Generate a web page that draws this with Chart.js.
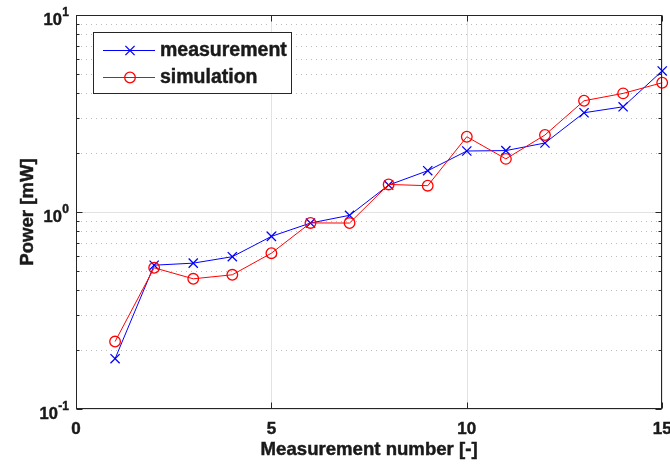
<!DOCTYPE html>
<html>
<head>
<meta charset="utf-8">
<script src="https://cdn.jsdelivr.net/npm/chart.js@4/dist/chart.umd.min.js"></script>
<style>
  html, body { margin: 0; padding: 0; background: #ffffff; }
  #wrap { width: 670px; height: 466px; }
</style>
</head>
<body>
<div id="wrap"><canvas id="c" width="670" height="466"></canvas></div>
<script>
// Measurement index and power readings (mW)
const measurementNumbers = [1, 2, 3, 4, 5, 6, 7, 8, 9, 10, 11, 12, 13, 14, 15];
const measuredPower  = [0.18, 0.537, 0.55, 0.593, 0.752, 0.879, 0.962, 1.37, 1.62, 2.04, 2.05, 2.24, 3.19, 3.42, 5.2];
const simulatedPower = [0.22, 0.521, 0.458, 0.48, 0.618, 0.88, 0.879, 1.38, 1.36, 2.41, 1.86, 2.46, 3.67, 4.0, 4.53];

// Axis ticks
const xTickValues = [0, 5, 10, 15];
const yDecadeExponents = [-1, 0, 1];
const yMinorFactors = [2, 3, 4, 5, 6, 7, 8, 9];

const seriesNames = ['measurement', 'simulation'];
const xTitle = 'Measurement number [-]';
const yTitle = 'Power [mW]';

const FONT = '"Liberation Sans", Arial, Helvetica, sans-serif';
const AXIS_COLOR = '#262626';
const TEXT_COLOR = '#1a1a1a';

function toPoints(xs, ys) {
  return xs.map((x, i) => ({ x: x, y: ys[i] }));
}

// Heavy bold text: fill plus a hairline stroke of the same colour
function boldText(ctx, text, x, y) {
  ctx.fillText(text, x, y);
  ctx.save();
  ctx.lineWidth = 0.45;
  ctx.strokeStyle = ctx.fillStyle;
  ctx.setLineDash([]);
  ctx.strokeText(text, x, y);
  ctx.restore();
}

// Grid lines, box, ticks, labels and legend in the style of a MATLAB figure
const axesPlugin = {
  id: 'boxAxes',
  beforeDatasetsDraw(chart) {
    const { ctx, chartArea: a, scales: { x, y } } = chart;
    ctx.save();
    ctx.lineWidth = 1;
    // minor dotted y grid
    ctx.strokeStyle = '#bdbdbd';
    ctx.setLineDash([1, 4]);
    for (const e of yDecadeExponents.slice(0, -1)) {
      for (const f of yMinorFactors) {
        const py = Math.round(y.getPixelForValue(f * Math.pow(10, e))) + 0.5;
        ctx.beginPath();
        ctx.moveTo(a.left, py);
        ctx.lineTo(a.right, py);
        ctx.stroke();
      }
    }
    // major solid grid
    ctx.setLineDash([]);
    ctx.strokeStyle = '#e2e2e2';
    for (const e of yDecadeExponents) {
      const py = Math.round(y.getPixelForValue(Math.pow(10, e))) + 0.5;
      ctx.beginPath();
      ctx.moveTo(a.left, py);
      ctx.lineTo(a.right, py);
      ctx.stroke();
    }
    for (const v of xTickValues) {
      const px = Math.round(x.getPixelForValue(v)) + 0.5;
      ctx.beginPath();
      ctx.moveTo(px, a.top);
      ctx.lineTo(px, a.bottom);
      ctx.stroke();
    }
    ctx.restore();
  },
  afterDatasetsDraw(chart) {
    const { ctx, chartArea: a, scales: { x, y } } = chart;
    ctx.save();
    ctx.lineWidth = 1;
    ctx.strokeStyle = AXIS_COLOR;
    const L = Math.round(a.left) + 0.5, R = Math.round(a.right) - 0.5;
    const T = Math.round(a.top) + 0.5, B = Math.round(a.bottom) - 0.5;
    ctx.strokeRect(L, T, R - L, B - T);

    // x ticks (bottom and top, pointing inward)
    ctx.beginPath();
    for (const v of xTickValues) {
      const px = Math.round(x.getPixelForValue(v)) + 0.5;
      ctx.moveTo(px, B); ctx.lineTo(px, B - 6);
      ctx.moveTo(px, T); ctx.lineTo(px, T + 6);
    }
    // y ticks (left and right)
    for (const e of yDecadeExponents) {
      const py = Math.round(y.getPixelForValue(Math.pow(10, e))) + 0.5;
      ctx.moveTo(L, py); ctx.lineTo(L + 6, py);
      ctx.moveTo(R, py); ctx.lineTo(R - 6, py);
    }
    for (const e of yDecadeExponents.slice(0, -1)) {
      for (const f of yMinorFactors) {
        const py = Math.round(y.getPixelForValue(f * Math.pow(10, e))) + 0.5;
        ctx.moveTo(L, py); ctx.lineTo(L + 3, py);
        ctx.moveTo(R, py); ctx.lineTo(R - 3, py);
      }
    }
    ctx.stroke();

    // x tick labels
    ctx.fillStyle = TEXT_COLOR;
    ctx.font = 'bold 17px ' + FONT;
    ctx.textAlign = 'center';
    ctx.textBaseline = 'middle';
    for (const v of xTickValues) {
      boldText(ctx, String(v), x.getPixelForValue(v), a.bottom + 20);
    }

    // y tick labels: 10 with superscript exponent
    for (const e of yDecadeExponents) {
      const py = y.getPixelForValue(Math.pow(10, e));
      const sup = String(e);
      ctx.font = 'bold 12px ' + FONT;
      const supW = ctx.measureText(sup).width;
      const right = a.left - 7;
      ctx.textAlign = 'right';
      boldText(ctx, sup, right, py - 2);
      ctx.font = 'bold 16.5px ' + FONT;
      boldText(ctx, '10', right - supW - 0.5, py + 5);
    }

    // axis titles
    ctx.font = 'bold 18.6px ' + FONT;
    ctx.textAlign = 'center';
    ctx.textBaseline = 'middle';
    boldText(ctx, xTitle, (a.left + a.right) / 2, 450);
    ctx.save();
    ctx.translate(28, (a.top + a.bottom) / 2);
    ctx.rotate(-Math.PI / 2);
    boldText(ctx, yTitle, 0, 0);
    ctx.restore();

    // legend
    const lx = 93.5, ly = 32.5, lw = 198, lh = 61;
    ctx.fillStyle = '#ffffff';
    ctx.fillRect(lx, ly, lw, lh);
    ctx.strokeStyle = AXIS_COLOR;
    ctx.strokeRect(lx, ly, lw, lh);
    const rows = [50, 77];
    chart.data.datasets.forEach((ds) => {
      const idx = seriesNames.indexOf(ds.label);
      const ry = rows[idx];
      ctx.strokeStyle = ds.borderColor;
      ctx.lineWidth = 1;
      ctx.beginPath();
      ctx.moveTo(103, ry + 0.5);
      ctx.lineTo(155, ry + 0.5);
      ctx.stroke();
      ctx.fillStyle = 'rgba(0,0,0,0)';
      ctx.strokeStyle = ds.pointBorderColor;
      ctx.lineWidth = ds.pointBorderWidth;
      Chart.helpers.drawPoint(ctx, {
        pointStyle: ds.pointStyle,
        radius: ds.pointRadius,
        borderWidth: ds.pointBorderWidth,
        rotation: 0
      }, 130, ry + 0.5);
      ctx.fillStyle = TEXT_COLOR;
      ctx.font = 'bold 19.5px ' + FONT;
      ctx.textAlign = 'left';
      ctx.textBaseline = 'middle';
      boldText(ctx, ds.label, 160, ry + 1);
    });
    ctx.restore();
  }
};

new Chart(document.getElementById('c'), {
  type: 'line',
  data: {
    datasets: [
      {
        label: seriesNames[0],
        data: toPoints(measurementNumbers, measuredPower),
        borderColor: '#0000ff',
        backgroundColor: 'rgba(0,0,0,0)',
        borderWidth: 1,
        pointStyle: 'crossRot',
        pointRadius: 6.5,
        pointBorderWidth: 1.3,
        pointBorderColor: '#0000ff',
        tension: 0,
        clip: false,
        order: 2
      },
      {
        label: seriesNames[1],
        data: toPoints(measurementNumbers, simulatedPower),
        borderColor: '#ff0000',
        backgroundColor: 'rgba(0,0,0,0)',
        borderWidth: 1,
        pointStyle: 'circle',
        pointRadius: 5.3,
        pointBorderWidth: 1.3,
        pointBorderColor: '#ff0000',
        pointBackgroundColor: 'rgba(0,0,0,0)',
        tension: 0,
        clip: false,
        order: 1
      }
    ]
  },
  options: {
    responsive: false,
    animation: false,
    devicePixelRatio: 1,
    layout: { padding: { left: 76, top: 15, right: 7, bottom: 57 } },
    plugins: { legend: { display: false }, tooltip: { enabled: false } },
    scales: {
      x: { type: 'linear', min: 0, max: 15, display: false },
      y: { type: 'logarithmic', min: 0.1, max: 10, display: false }
    }
  },
  plugins: [axesPlugin]
});
</script>
</body>
</html>
